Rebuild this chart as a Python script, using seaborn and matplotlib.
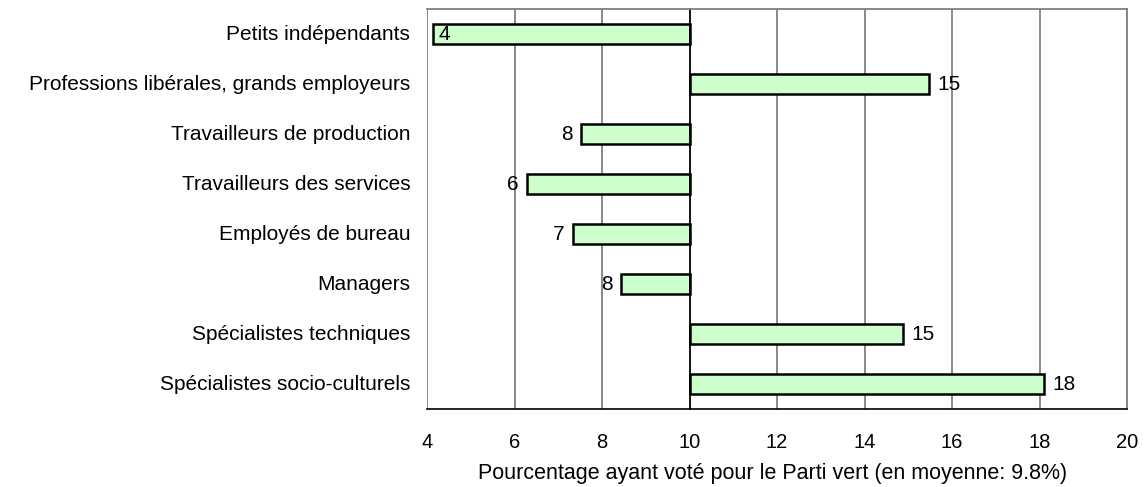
import numpy as np
import pandas as pd
import matplotlib
matplotlib.use("Agg")
import matplotlib.pyplot as plt
import seaborn as sns

# ==============================
# DATA
# ==============================
categories = [
    "Petits indépendants",
    "Professions libérales, grands employeurs",
    "Travailleurs de production",
    "Travailleurs des services",
    "Employés de bureau",
    "Managers",
    "Spécialistes techniques",
    "Spécialistes socio-culturels",
]
values = [4.13, 15.48, 7.52, 6.28, 7.33, 8.43, 14.87, 18.1]
baseline = 10
x_ticks = [4, 6, 8, 10, 12, 14, 16, 18, 20]
x_label = "Pourcentage ayant voté pour le Parti vert (en moyenne: 9.8%)"

df = pd.DataFrame({"cat": categories, "val": values})
df["diff"] = df["val"] - baseline

# ==============================
# STYLE
# ==============================
sns.set_style("white")
plt.rcParams["font.family"] = ["Liberation Sans", "DejaVu Sans"]
plt.rcParams["text.color"] = "black"
plt.rcParams["xtick.color"] = "black"
plt.rcParams["ytick.color"] = "black"
plt.rcParams["axes.labelcolor"] = "black"
FS = 15

fig = plt.figure(figsize=(11.44, 4.87), dpi=100)
ax = fig.add_axes([427 / 1144, 1 - 409 / 487, 700 / 1144, 400 / 487])

# bars start at the baseline (10)
sns.barplot(data=df, x="diff", y="cat", orient="h", left=baseline,
            color="#CCFFCC", saturation=1, edgecolor="black", linewidth=1.8,
            width=0.4, ax=ax)

ax.set_xlim(4, 20)
ax.set_ylim(7.5, -0.5)
ax.set_xticks(x_ticks)
ax.set_xticklabels([str(t) for t in x_ticks], fontsize=14.5)
ax.set_xlabel(x_label, fontsize=15.5, labelpad=8)
ax.xaxis.set_label_coords(0.493, -0.135)
ax.set_ylabel("")

ax.grid(axis="x", color="#808080", linewidth=1.3, zorder=0)
ax.set_axisbelow(True)

for side in ["top", "right"]:
    ax.spines[side].set_color("#808080")
    ax.spines[side].set_linewidth(1.3)
ax.spines["bottom"].set_color("black")
ax.spines["bottom"].set_linewidth(1.2)
ax.spines["left"].set_position(("data", baseline))
ax.spines["left"].set_color("black")
ax.spines["left"].set_linewidth(1.2)

ax.tick_params(axis="x", direction="out", length=5, width=1, color="black", pad=12)
ax.tick_params(axis="y", which="major", length=0, labelleft=False)
ax.set_yticks(np.arange(-0.5, len(categories), 1), minor=True)
ax.tick_params(axis="y", which="minor", direction="out", length=5, width=1, color="black")

# category labels at far left
for i, c in enumerate(categories):
    ax.text(-0.024, i, c, transform=ax.get_yaxis_transform(),
            ha="right", va="center", fontsize=FS)

# value labels
for i, v in enumerate(values):
    lab = f"{v:.0f}"
    if v < 4.5:
        ax.annotate(lab, (v, i), xytext=(4, 0), textcoords="offset points",
                    ha="left", va="center", fontsize=FS)
    elif v < baseline:
        ax.annotate(lab, (v, i), xytext=(-6, 0), textcoords="offset points",
                    ha="right", va="center", fontsize=FS)
    else:
        ax.annotate(lab, (v, i), xytext=(6, 0), textcoords="offset points",
                    ha="left", va="center", fontsize=FS)

fig.savefig("out.png", dpi=100)
